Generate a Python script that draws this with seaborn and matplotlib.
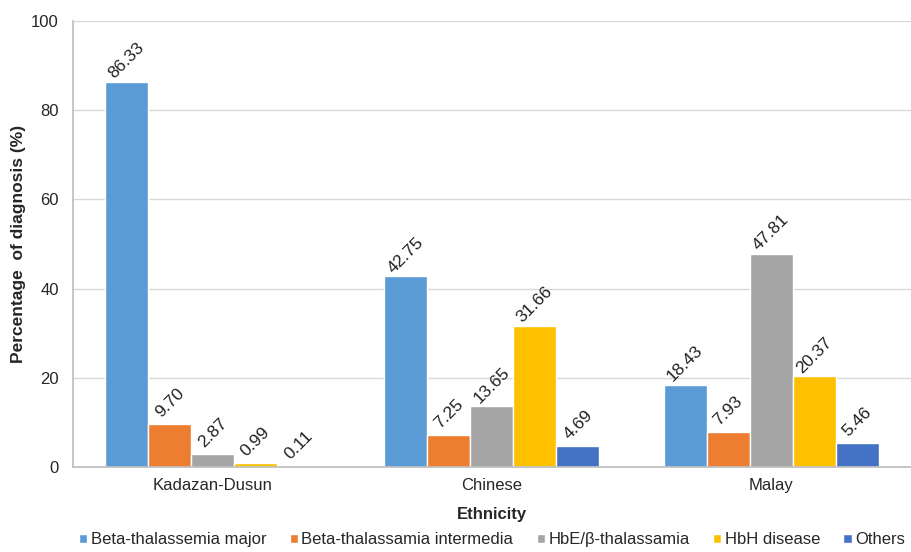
import matplotlib
matplotlib.use("Agg")
import matplotlib.pyplot as plt
import seaborn as sns
import pandas as pd
import numpy as np

ethnicities = ["Kadazan-Dusun", "Chinese", "Malay"]
diagnoses = ["Beta-thalassemia major", "Beta-thalassamia intermedia",
             "HbE/\u03b2-thalassamia", "HbH disease", "Others"]
kadazan_dusun = [86.33, 9.70, 2.87, 0.99, 0.11]
chinese = [42.75, 7.25, 13.65, 31.66, 4.69]
malay = [18.43, 7.93, 47.81, 20.37, 5.46]
colors = ["#5B9BD5", "#ED7D31", "#A5A5A5", "#FFC000", "#4472C4"]

rows = []
for eth, vals in zip(ethnicities, [kadazan_dusun, chinese, malay]):
    for dx, v in zip(diagnoses, vals):
        rows.append({"Ethnicity": eth, "Diagnosis": dx, "Percent": v})
df = pd.DataFrame(rows)

sns.set_theme(style="white")
plt.rcParams["font.family"] = ["Liberation Sans", "DejaVu Sans"]

fig = plt.figure(figsize=(9.11, 5.52), dpi=100)
ax = fig.add_axes([0.080, 0.154, 0.920, 0.808])

sns.barplot(data=df, x="Ethnicity", y="Percent", hue="Diagnosis",
            order=ethnicities, hue_order=diagnoses, palette=colors,
            width=0.77, saturation=1, ax=ax, legend=True)

# value labels above each bar
for container in ax.containers:
    for bar in container:
        h = bar.get_height()
        ax.annotate(f"{h:.2f}", (bar.get_x() + bar.get_width() / 2, h),
                    xytext=(0, 21), textcoords="offset pixels",
                    ha="center", va="center", rotation=45,
                    fontsize=12.5, color="#222222")

ax.set_ylim(0, 100)
ax.set_xlim(-0.5, 2.5)
ax.set_yticks(np.arange(0, 101, 20))
ax.yaxis.grid(True, color="#D9D9D9", linewidth=1)
ax.set_axisbelow(True)
ax.tick_params(axis="y", length=6, color="#BFBFBF", labelsize=12, pad=4)
ax.tick_params(axis="x", which="major", length=0, labelsize=12, pad=8)
ax.set_xticks([-0.5, 0.5, 1.5, 2.5], minor=True)
ax.tick_params(axis="x", which="minor", length=6, color="#BFBFBF", direction="out")

for s in ["top", "right"]:
    ax.spines[s].set_visible(False)
ax.spines["left"].set_color("#BFBFBF")
ax.spines["bottom"].set_color("#BFBFBF")

ax.set_ylabel("Percentage  of diagnosis (%)", fontsize=12.5, fontweight="bold", labelpad=4)
ax.set_xlabel("Ethnicity", fontsize=12, fontweight="bold", labelpad=10)

handles, labels = ax.get_legend_handles_labels()
ax.legend(handles, labels, loc="center", bbox_to_anchor=(0.5, -0.163),
          ncol=5, frameon=False, fontsize=12, handlelength=0.5, handleheight=0.5,
          handletextpad=0.2, columnspacing=1.4, borderaxespad=0, borderpad=0)

fig.savefig("out.png", dpi=100, facecolor="white")
